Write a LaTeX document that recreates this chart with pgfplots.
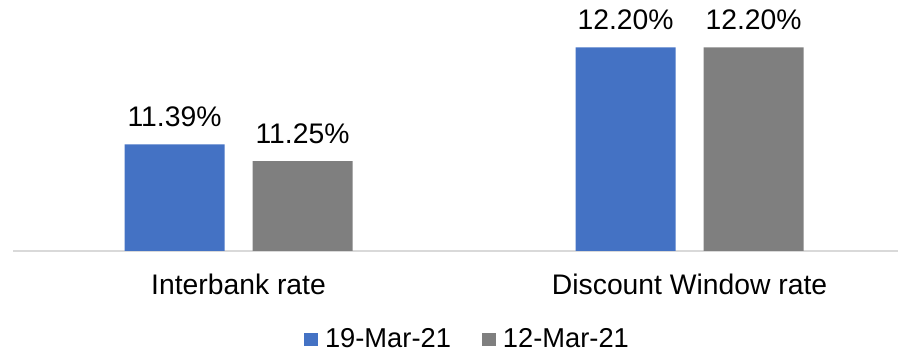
\documentclass[border=0pt]{standalone}
\usepackage{pgfplots}
\pgfplotsset{compat=1.18}
\usepackage{fontspec}
\setmainfont{Liberation Sans}

\definecolor{serA}{HTML}{4472C4}
\definecolor{serB}{HTML}{7F7F7F}
\definecolor{baseline}{HTML}{D9D9D9}

\newcommand{\chartfont}{\fontsize{28.3}{33}\selectfont}
\newcommand{\legendfont}{\fontsize{27.3}{32}\selectfont}

\begin{document}
\begin{tikzpicture}
\begin{axis}[
  at={(0,0)}, anchor=south west,
  scale only axis,
  width=885pt, height=239.6pt,
  xmin=-0.5, xmax=1.462,
  ymin=10.5, ymax=12.5,
  ybar=28pt, bar width=100pt,
  axis x line*=bottom,
  axis y line=none,
  x axis line style={draw=baseline, line width=1.5pt, -},
  xtick={0,1},
  xticklabels={Interbank rate, Discount Window rate},
  xtick style={draw=none},
  major tick length=0pt,
  x tick label style={font=\chartfont, anchor=base, yshift=-44pt, inner sep=0pt},
  clip=false,
  nodes near coords={\pgfmathprintnumber[fixed,fixed zerofill,precision=2,assume math mode=true]{\pgfplotspointmeta}\%},
  every node near coord/.append style={font=\chartfont, anchor=base, yshift=18pt, inner sep=0pt, text=black},
  legend columns=2,
  legend style={
    draw=none, fill=none, font=\legendfont,
    at={(axis description cs:0.5124,-0.410)}, anchor=south,
    inner sep=0pt, outer sep=0pt,
    nodes={inner sep=0pt},
    /tikz/every odd column/.append style={column sep=7pt},
    /tikz/every even column/.append style={column sep=31pt},
  },
  legend image code/.code={\fill[#1] (0pt,-7pt) rectangle (14pt,6pt);},
]
\addplot[fill=serA, draw=none] coordinates {(0,11.39) (1,12.20)};
\addplot[fill=serB, draw=none] coordinates {(0,11.25) (1,12.20)};
\legend{19-Mar-21, 12-Mar-21}
\end{axis}
\pgfresetboundingbox
\path (-13pt,-102pt) rectangle (885pt,251pt);
\end{tikzpicture}
\end{document}
